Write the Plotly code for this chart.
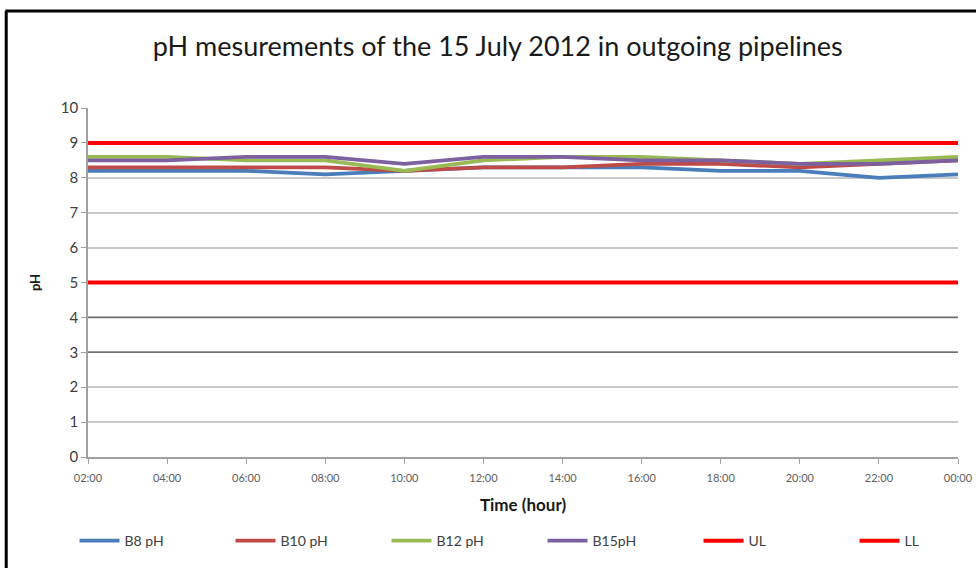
import plotly.graph_objects as go

# Sampling times (two-hourly) on 15 July 2012
hours = ["02:00", "04:00", "06:00", "08:00", "10:00", "12:00",
         "14:00", "16:00", "18:00", "20:00", "22:00", "00:00"]

# pH readings per outgoing pipeline
b8_ph = [8.2, 8.2, 8.2, 8.1, 8.2, 8.3, 8.3, 8.3, 8.2, 8.2, 8.0, 8.1]
b10_ph = [8.3, 8.3, 8.3, 8.3, 8.2, 8.3, 8.3, 8.4, 8.4, 8.3, 8.4, 8.5]
b12_ph = [8.6, 8.6, 8.5, 8.5, 8.2, 8.5, 8.6, 8.6, 8.5, 8.4, 8.5, 8.6]
b15_ph = [8.5, 8.5, 8.6, 8.6, 8.4, 8.6, 8.6, 8.5, 8.5, 8.4, 8.4, 8.5]

# Upper and lower pH limits
upper_limit = [9] * len(hours)
lower_limit = [5] * len(hours)

y_ticks = list(range(0, 11))
dark_grid_ticks = [3, 4]

series = [
    ("B8 pH", b8_ph, "#4A7EBB", 3.8),
    ("B10 pH", b10_ph, "#BE4B48", 3.8),
    ("B12 pH", b12_ph, "#98B954", 3.8),
    ("B15pH", b15_ph, "#7D60A0", 3.8),
    ("UL", upper_limit, "#FF0000", 4),
    ("LL", lower_limit, "#FF0000", 4),
]

FONT = "Lato, 'Open Sans', sans-serif"

fig = go.Figure()
for name, values, color, width in series:
    fig.add_trace(go.Scatter(
        x=hours, y=values, name=name, mode="lines",
        line=dict(color=color, width=width),
    ))

# darker gridlines at selected pH levels (no trace crosses these levels)
grid_shapes = [
    dict(type="line", xref="x domain", yref="y", x0=0, x1=1, y0=v, y1=v,
         line=dict(color="#707070", width=1.5), layer="above")
    for v in dark_grid_ticks
]

# outer chart frame (left and top edges)
frame_shapes = [
    dict(type="line", xref="paper", yref="paper",
         x0=-0.094, x1=-0.094, y0=1.278, y1=-0.35,
         line=dict(color="black", width=3)),
    dict(type="line", xref="paper", yref="paper",
         x0=-0.095, x1=1.05, y0=1.278, y1=1.278,
         line=dict(color="black", width=3)),
]

fig.update_layout(
    width=976, height=568,
    paper_bgcolor="white", plot_bgcolor="white",
    margin=dict(l=88, r=18, t=108, b=111, autoexpand=False),
    title=dict(
        text="pH mesurements of the 15 July 2012 in outgoing pipelines",
        x=0.51, xanchor="center", y=0.918, yanchor="middle",
        font=dict(family=FONT, size=27, color="#1a1a1a"),
    ),
    font=dict(family=FONT, color="#404040"),
    xaxis=dict(
        type="category", range=[0, 11],
        showgrid=False, showline=True, linecolor="#a0a0a0", linewidth=1.5,
        ticks="outside", ticklen=5, tickcolor="#a0a0a0",
        ticklabelstandoff=5,
        tickfont=dict(size=11, color="#606060"),
        title=dict(text="<b>Time (hour)</b>", font=dict(size=17, color="#1a1a1a"),
                   standoff=16),
    ),
    yaxis=dict(
        range=[0, 10], tickvals=y_ticks,
        showgrid=True, gridcolor="#c8c8c8", gridwidth=1.5,
        showline=True, linecolor="#a0a0a0", linewidth=1.5,
        ticks="outside", ticklen=5, tickcolor="#a0a0a0",
        tickfont=dict(size=15, color="#404040"),
        zeroline=False,
        title=dict(text="<b>pH</b>", font=dict(size=13, color="#1a1a1a"),
                   standoff=17),
    ),
    legend=dict(
        orientation="h", x=-0.0155, xanchor="left", y=-0.195, yanchor="top",
        font=dict(size=14, color="#404040"),
        entrywidth=101, entrywidthmode="pixels",
        itemwidth=40,
    ),
    shapes=grid_shapes + frame_shapes,
)

fig.write_html("out.html")
